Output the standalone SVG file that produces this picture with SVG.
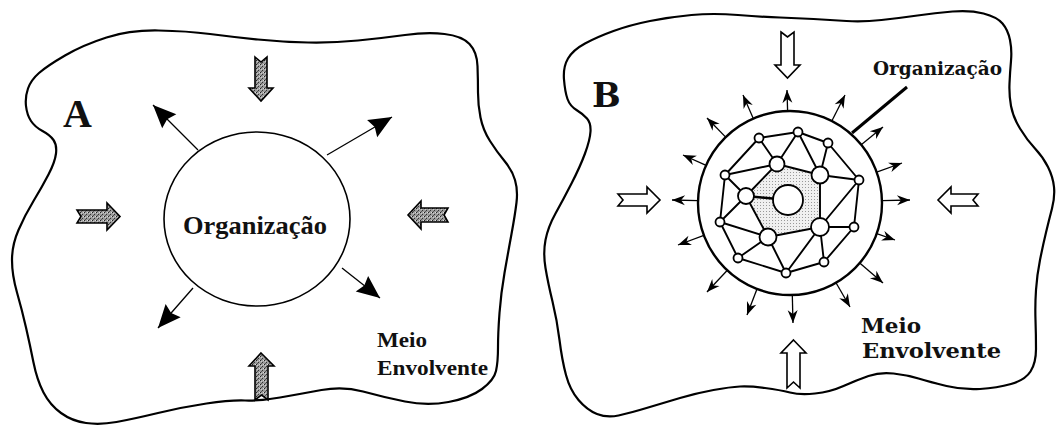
<svg xmlns="http://www.w3.org/2000/svg" width="1056" height="429" viewBox="0 0 1056 429">
<style>
.outline{fill:none;stroke:#000;stroke-width:2.2;stroke-linejoin:round}
.ta{font-family:"Liberation Serif","Times New Roman",serif;font-weight:bold;fill:#111}
.tb{font-family:"DejaVu Serif","Liberation Serif",serif;font-weight:bold;fill:#111}
.hatch{fill:url(#stip);stroke:#000;stroke-width:1.6;stroke-linejoin:miter}
.hollow{fill:#fff;stroke:#000;stroke-width:1.6;stroke-linejoin:miter}
.ray{stroke:#000;stroke-width:1.3;fill:none}
.rayb{stroke:#000;stroke-width:1.3;fill:none}
.edge{stroke:#000;stroke-width:1.9;fill:none;stroke-linecap:round}
.nd{fill:#fff;stroke:#000;stroke-width:1.8}
</style>
<defs>
<pattern id="stip" width="4" height="4" patternUnits="userSpaceOnUse">
<rect width="4" height="4" fill="#9c9c9c"/>
<rect x="0" y="0" width="1" height="1" fill="#222"/>
<rect x="2" y="2" width="1" height="1" fill="#333"/>
<rect x="1" y="3" width="1" height="1" fill="#555"/>
<rect x="3" y="0" width="1" height="1" fill="#ddd"/>
<rect x="1" y="1" width="1" height="1" fill="#ccc"/>
</pattern>
<pattern id="dots" width="3" height="3" patternUnits="userSpaceOnUse">
<rect width="3" height="3" fill="#f0f0f0"/>
<rect x="1" y="1" width="1" height="1" fill="#999"/>
</pattern>
<marker id="bigHead" markerUnits="userSpaceOnUse" markerWidth="26" markerHeight="22" refX="23" refY="10" orient="auto" overflow="visible">
<path d="M0,0 L23,10 L0,20 L3,10 Z" fill="#000"/>
</marker>
<marker id="smallHead" markerUnits="userSpaceOnUse" markerWidth="14" markerHeight="11" refX="13" refY="5" orient="auto" overflow="visible">
<path d="M0,0 L13,5 L0,10 L4,5 Z" fill="#000"/>
</marker>
</defs>

<!-- Panel A -->
<g id="panelA-environment">
<path class="outline" d="M26,106 Q25,97 28,88.5 Q31,80 39,73 Q47,66 65,55.5 Q83,45 106.5,37.5 Q130,30 158.5,30.5 Q187,31 210,34 Q233,37 258,39.5 Q283,42 308,42.5 Q333,43 358,40.5 Q383,38 405,35 Q427,32 444.5,34 Q462,36 469.5,44 Q477,52 477.5,66 Q478,80 478,92.5 Q478,105 480.5,117.5 Q483,130 490,141 Q497,152 504.5,161 Q512,170 515,180 Q518,190 516.5,202.5 Q515,215 511.5,234 Q508,253 504.5,273 Q501,293 499.5,313 Q498,333 498,347.5 Q498,362 496,371 Q494,380 482,389 Q470,398 448.5,402 Q427,406 405,401.5 Q383,397 363,391.5 Q343,386 321.5,390 Q300,394 280,397.5 Q260,401 245,400.5 Q230,400 206.5,403.5 Q183,407 158,413 Q133,419 116.5,422 Q100,425 86,423 Q72,421 61,413 Q50,405 43.5,392.5 Q37,380 33.5,362.5 Q30,345 26,327.5 Q22,310 17,292.5 Q12,275 12,260 Q12,245 18.5,230 Q25,215 33.5,201 Q42,187 48.5,174.5 Q55,162 56,153.5 Q57,145 53.5,140 Q50,135 42.5,131 Q35,127 31,121 Q27,115 26,106 Z"/>
</g>
<g id="labelA"><text class="ta" x="63" y="127" font-size="40">A</text></g>
<g id="organizacaoA">
<ellipse cx="257" cy="219" rx="93" ry="87" fill="none" stroke="#000" stroke-width="1.6"/>
<text class="ta" x="183" y="234" font-size="25" textLength="144" lengthAdjust="spacingAndGlyphs">Organização</text>
</g>
<g id="meioA">
<text class="ta" x="377" y="347" font-size="22" textLength="50" lengthAdjust="spacingAndGlyphs">Meio</text>
<text class="ta" x="377" y="375" font-size="22" textLength="111" lengthAdjust="spacingAndGlyphs">Envolvente</text>
</g>

<!-- Panel B -->
<g id="panelB-environment">
<path class="outline" d="M564,79.5 Q563,67 568,58.5 Q573,50 585,43.5 Q597,37 613.5,31 Q630,25 650,21 Q670,17 691.5,15 Q713,13 738,15 Q763,17 780,17.5 Q797,18 813.5,19 Q830,20 846.5,21 Q863,22 881.5,20 Q900,18 917.5,15.5 Q935,13 952.5,11.5 Q970,10 983.5,13.5 Q997,17 1002.5,23.5 Q1008,30 1010,40 Q1012,50 1011,61 Q1010,72 1009.5,83.5 Q1009,95 1011,106 Q1013,117 1020,128.5 Q1027,140 1035,148.5 Q1043,157 1048,167 Q1053,177 1054,187 Q1055,197 1052,208.5 Q1049,220 1046,232.5 Q1043,245 1040,260 Q1037,275 1036,290 Q1035,305 1035.5,320 Q1036,335 1036,349 Q1036,363 1030.5,371.5 Q1025,380 1011,384 Q997,388 980,389 Q963,390 946.5,386 Q930,382 918.5,378.5 Q907,375 893.5,373.5 Q880,372 868.5,376 Q857,380 843.5,386 Q830,392 815,393.5 Q800,395 790,392.5 Q780,390 765,388 Q750,386 740,386.5 Q730,387 713.5,390 Q697,393 680,398 Q663,403 646.5,408 Q630,413 618.5,415.5 Q607,418 597,414 Q587,410 578.5,400 Q570,390 566,375 Q562,360 559.5,340 Q557,320 552.5,301.5 Q548,283 545.5,268 Q543,253 545.5,240 Q548,227 555.5,213.5 Q563,200 571.5,183.5 Q580,167 585,153.5 Q590,140 590.5,131.5 Q591,123 587,118.5 Q583,114 576.5,110 Q570,106 567.5,99 Q565,92 564,79.5 Z"/>
</g>
<g id="labelB"><text class="tb" x="592" y="107" font-size="34">B</text></g>
<g id="organizacaoB">
<circle cx="790" cy="203" r="92" fill="#fff" stroke="#000" stroke-width="2.4"/>
<polygon points="777,164 820,175 820,227 768,237 746,196" fill="url(#dots)" stroke="none"/>
<g id="network-edges">
<polygon class="edge" points="759,138 798,132 828,143 859,180 854,227 824,262 786,273 738,258 720,222 725,175" stroke-linejoin="round"/>
<path class="edge" d="M759,138 L777,164 M798,132 L777,164 M798,132 L820,175 M828,143 L820,175 M725,175 L777,164 M777,164 L820,175 M725,175 L746,196 M777,164 L746,196 M820,175 L859,180 M820,175 L820,227 M820,227 L859,180 M820,227 L854,227 M820,227 L824,262 M820,227 L786,273 M768,237 L820,227 M768,237 L786,273 M768,237 L738,258 M768,237 L720,222 M746,196 L720,222 M746,196 L768,237"/>
<path d="M746,196 L788,200" stroke="#000" stroke-width="2.6"/>
</g>
<g id="network-nodes">
<circle class="nd" cx="759" cy="138" r="4.5"/>
<circle class="nd" cx="798" cy="132" r="4.5"/>
<circle class="nd" cx="828" cy="143" r="4.5"/>
<circle class="nd" cx="859" cy="180" r="4.5"/>
<circle class="nd" cx="854" cy="227" r="4.5"/>
<circle class="nd" cx="824" cy="262" r="4.5"/>
<circle class="nd" cx="786" cy="273" r="4.5"/>
<circle class="nd" cx="738" cy="258" r="4.5"/>
<circle class="nd" cx="720" cy="222" r="4.5"/>
<circle class="nd" cx="725" cy="175" r="4.5"/>
<circle class="nd" cx="777" cy="164" r="7.5"/>
<circle class="nd" cx="820" cy="175" r="8.5"/>
<circle class="nd" cx="746" cy="196" r="8"/>
<circle class="nd" cx="820" cy="227" r="9"/>
<circle class="nd" cx="768" cy="237" r="8.5"/>
<circle class="nd" cx="788" cy="200" r="15" stroke-width="2"/>
</g>
<text class="tb" x="873" y="75" font-size="18" textLength="129" lengthAdjust="spacingAndGlyphs">Organização</text>
</g>
<g id="meioB">
<text class="tb" x="861" y="333" font-size="21" textLength="60" lengthAdjust="spacingAndGlyphs">Meio</text>
<text class="tb" x="862" y="358" font-size="21" textLength="139" lengthAdjust="spacingAndGlyphs">Envolvente</text>
</g>

<g id="connectors">
<!-- Panel A inward hatched arrows -->
<path class="hatch" d="M255,57 L261,62 L267,57 L267,88 L273,88 L261,101 L249,88 L255,88 Z"/>
<path class="hatch" d="M261,353 L274,366 L268,366 L268,400 L261.5,395 L255,400 L255,366 L249,366 Z"/>
<path class="hatch" d="M77,210 L107,210 L107,203 L120,216.5 L107,230 L107,223 L77,223 L81,216.5 Z"/>
<path class="hatch" d="M448,208 L421,208 L421,201 L408,215 L421,229 L421,222 L448,222 L444,215 Z"/>
<!-- Panel A outward arrows -->
<line class="ray" x1="198" y1="150" x2="153" y2="105" marker-end="url(#bigHead)"/>
<line class="ray" x1="327" y1="155" x2="392" y2="117" marker-end="url(#bigHead)"/>
<line class="ray" x1="342" y1="268" x2="380" y2="298" marker-end="url(#bigHead)"/>
<line class="ray" x1="193" y1="288" x2="158" y2="328" marker-end="url(#bigHead)"/>
<!-- Panel B inward hollow arrows -->
<path class="hollow" d="M781,32 L787.5,37 L794,32 L794,65 L800,65 L787.5,78 L775,65 L781,65 Z"/>
<path class="hollow" d="M793.5,340 L806,353 L800,353 L800,388 L793.5,382 L787,388 L787,353 L781,353 Z"/>
<path class="hollow" d="M618,194 L647,194 L647,187 L660,200 L647,213 L647,206 L618,206 L623,200 Z"/>
<path class="hollow" d="M978,194 L951,194 L951,187 L938,200 L951,213 L951,206 L978,206 L973,200 Z"/>
<!-- Panel B outward arrows -->
<line class="rayb" x1="787.6" y1="111" x2="787" y2="90" marker-end="url(#smallHead)"/>
<line class="rayb" x1="753.3" y1="118.6" x2="743" y2="95" marker-end="url(#smallHead)"/>
<line class="rayb" x1="725.7" y1="137.1" x2="707" y2="118" marker-end="url(#smallHead)"/>
<line class="rayb" x1="706.1" y1="165.4" x2="683" y2="155" marker-end="url(#smallHead)"/>
<line class="rayb" x1="698" y1="200.7" x2="672" y2="200" marker-end="url(#smallHead)"/>
<line class="rayb" x1="703.9" y1="235.3" x2="678" y2="245" marker-end="url(#smallHead)"/>
<line class="rayb" x1="727.3" y1="270.3" x2="707" y2="292" marker-end="url(#smallHead)"/>
<line class="rayb" x1="757" y1="288.9" x2="747" y2="315" marker-end="url(#smallHead)"/>
<line class="rayb" x1="792.3" y1="295" x2="793" y2="323" marker-end="url(#smallHead)"/>
<line class="rayb" x1="836" y1="282.7" x2="850" y2="307" marker-end="url(#smallHead)"/>
<line class="rayb" x1="859.7" y1="263" x2="883" y2="283" marker-end="url(#smallHead)"/>
<line class="rayb" x1="876.8" y1="233.6" x2="895" y2="240" marker-end="url(#smallHead)"/>
<line class="rayb" x1="882" y1="200.7" x2="910" y2="200" marker-end="url(#smallHead)"/>
<line class="rayb" x1="876.7" y1="172.1" x2="902" y2="163" marker-end="url(#smallHead)"/>
<line class="rayb" x1="861.2" y1="144.8" x2="883" y2="127" marker-end="url(#smallHead)"/>
<line class="rayb" x1="831.8" y1="121" x2="845" y2="95" marker-end="url(#smallHead)"/>
<!-- leader line -->
<line x1="907" y1="87" x2="852" y2="133" stroke="#000" stroke-width="3"/>
</g>
</svg>
